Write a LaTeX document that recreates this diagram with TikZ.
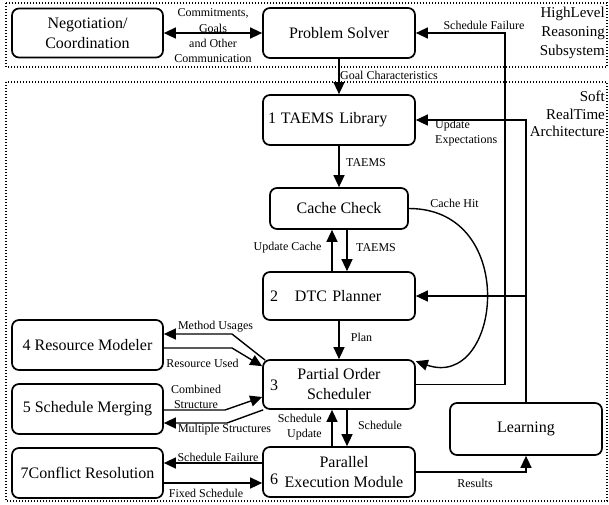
\documentclass[tikz,border=0pt]{standalone}
\usepackage{fontspec}
\setmainfont{Liberation Serif}
\usetikzlibrary{arrows.meta,calc}
\begin{document}
\begin{tikzpicture}[x=1pt,y=-1pt,
  box/.style={draw, line width=1.7pt, rounded corners=7pt, minimum width=152pt, minimum height=50pt, inner sep=0pt, font=\fontsize{16}{20}\selectfont, align=center},
  lbl/.style={font=\fontsize{12}{15}\selectfont, inner sep=0pt, align=center},
  side/.style={font=\fontsize{15}{19}\selectfont, inner sep=0pt, align=right, anchor=east},
  num/.style={font=\fontsize{16}{20}\selectfont, inner sep=0pt},
  arr/.style={line width=1.4pt, -{Triangle[length=12pt,width=11pt]}},
  darr/.style={line width=1.4pt, {Triangle[length=12pt,width=11pt]}-{Triangle[length=12pt,width=11pt]}},
  frame/.style={line width=1.1pt, dash pattern=on 1pt off 2pt}]
\useasboundingbox (0,0) rectangle (609,504);
% frames
\draw[frame] (6,3) rectangle (607,67);
\draw[frame] (6,82) rectangle (607,501);
% boxes
\node[box, minimum width=151pt, minimum height=49pt] (neg) at (87.5,33) {Negotiation/\\Coordination};
\node[box] (ps) at (339,33) {Problem Solver};
\node[box, text width=142pt, align=left] (taems) at (339,120) {1\hspace{5pt}TAEMS Library};
\node[box, minimum width=138pt, minimum height=41pt] (cache) at (339,208.5) {Cache Check};
\node[box, minimum height=48pt, text width=138pt, align=left] (dtc) at (339,296) {2\hspace{17pt}DTC Planner};
\node[box, minimum height=49pt] (pos) at (339,384.5) {Partial Order\\Scheduler};
\node[box] (pem) at (339,472) {\hspace*{10pt}Parallel\\\hspace*{10pt}Execution Module};
\node[box, minimum height=52pt] (learn) at (526,429) {Learning};
\node[box, minimum width=151pt] (rm) at (87.5,345) {4 Resource Modeler};
\node[box, minimum width=151pt] (sm) at (87.5,409) {5 Schedule Merging};
\node[box, minimum width=151pt] (cr) at (87.5,473) {7Conflict Resolution};
\node[num] (n3) at (274,385) {3};
\node[num] (n6) at (274,479) {6};
% side labels
\node[side] (hl) at (605,33) {HighLevel\\Reasoning\\Subsystem};
\node[side, font=\fontsize{15}{17.5}\selectfont] (srt) at (605,114) {Soft\\RealTime\\Architecture};
% connectors
\draw[darr] (neg) -- (ps);
\node[lbl, font=\fontsize{12}{15.3}\selectfont] (lcomm) at (213,36) {Commitments,\\Goals\\and Other\\Communication};
\draw[arr] (ps.south) -- (taems.north);
\node[lbl, anchor=west] (lgoal) at (340,75) {Goal Characteristics};
\coordinate (sfx) at (505,0);
\draw[arr] (pos.east) -| (sfx |- ps.east) -- (ps.east);
\node[lbl] (lsf) at (484,25) {Schedule Failure};
\draw[arr] (learn.north) |- (taems.east);
\draw[arr] (learn.north |- dtc.east) -- (dtc.east);
\node[lbl, anchor=west, align=left] (lue) at (435,133.5) {Update\\Expectations};
\draw[arr] (taems.south) -- (cache.north);
\node[lbl] (lt1) at (366,163) {TAEMS};
\draw[arr] (cache.east) .. controls +(112,0) and +(85,30) .. ([yshift=-2pt]pos.north east);
\node[lbl] (lch) at (454.5,203) {Cache Hit};
\draw[arr] ([xshift=-7pt]dtc.north) -- ([xshift=-7pt]cache.south);
\draw[arr] ([xshift=8pt]cache.south) -- ([xshift=8pt]dtc.north);
\node[lbl] (luc) at (287.5,248) {Update Cache};
\node[lbl] (lt2) at (376,248) {TAEMS};
\draw[arr] (dtc.south) -- (pos.north);
\node[lbl] (lplan) at (361.5,337) {Plan};
\draw[arr] ([xshift=-7pt]pem.north) -- ([xshift=-7pt]pos.south);
\draw[arr] ([xshift=8pt]pos.south) -- ([xshift=8pt]pem.north);
\node[lbl] (lsch) at (380,425) {Schedule};
\node[lbl, anchor=east, align=right] (lsu) at (322,427) {Schedule\\Update};
\draw[arr] (pem.east) -| (learn.south);
\node[lbl] (lres) at (475,483) {Results};
% left side
\coordinate (mu) at (232,334);
\coordinate (ru) at (232,348);
\coordinate (cs) at (225,410);
\coordinate (ms) at (227,423);
\draw[arr] ([xshift=3pt,yshift=-1pt]pos.north west) -- (mu) -- ([yshift=11pt]rm.east);
\node[lbl] (lmu) at (215.5,327) {Method Usages};
\draw[arr] ([yshift=-3pt]rm.east) -- (ru) -- ([yshift=-7pt]pos.north west);
\node[lbl] (lru) at (202.5,363) {Resource Used};
\draw[arr] ([yshift=-1pt]sm.east) -- (cs) -- ([yshift=-12.5pt]pos.west);
\node[lbl] (lcs) at (196,396.5) {Combined\\Structure};
\draw[arr] ([xshift=1pt]pos.south west) -- (ms) -- ([yshift=-14pt]sm.east);
\node[lbl] (lms) at (224.5,430) {Multiple Structures};
\draw[arr] ([yshift=9pt]pem.west) -- ([yshift=10pt]cr.east);
\node[lbl] (lsf2) at (218,457) {Schedule Failure};
\draw[arr] ([yshift=-10pt]cr.east) -- ([yshift=-11pt]pem.west);
\node[lbl] (lfs) at (206,493) {Fixed Schedule};
\end{tikzpicture}
\end{document}
